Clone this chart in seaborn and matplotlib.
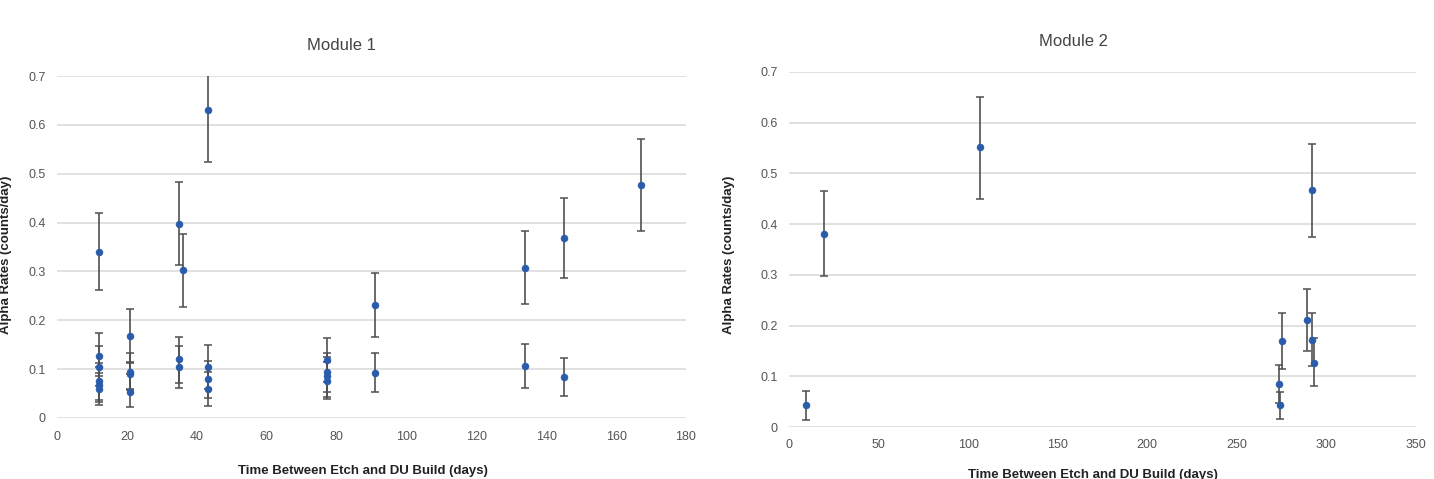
import matplotlib
matplotlib.use("Agg")
import matplotlib.pyplot as plt
import seaborn as sns
import pandas as pd
import numpy as np

# ---------------- data ----------------
# Module 1
m1_days = [12, 12, 12, 12, 12, 12,
           21, 21, 21, 21,
           35, 35, 35, 36.2,
           43.3, 43.3, 43.3, 43.3,
           77.2, 77.2, 77.2, 77.2,
           91, 91,
           134, 134,
           145, 145,
           167]
m1_rate = [0.340, 0.126, 0.105, 0.075, 0.068, 0.060,
           0.168, 0.094, 0.091, 0.054,
           0.398, 0.120, 0.105, 0.302,
           0.630, 0.105, 0.080, 0.059,
           0.118, 0.095, 0.085, 0.076,
           0.231, 0.093,
           0.308, 0.106,
           0.368, 0.084,
           0.477]
m1_low = [0.262, 0.085, 0.065, 0.037, 0.032, 0.027,
          0.115, 0.058, 0.060, 0.023,
          0.313, 0.072, 0.061, 0.228,
          0.524, 0.060, 0.040, 0.025,
          0.073, 0.054, 0.042, 0.039,
          0.166, 0.053,
          0.233, 0.062,
          0.287, 0.045,
          0.383]
m1_high = [0.419, 0.173, 0.147, 0.113, 0.105, 0.092,
           0.224, 0.134, 0.113, 0.090,
           0.483, 0.166, 0.147, 0.376,
           0.740, 0.149, 0.117, 0.095,
           0.163, 0.134, 0.125, 0.115,
           0.297, 0.134,
           0.383, 0.151,
           0.451, 0.123,
           0.571]

# Module 2
m2_days = [9.5, 19.5, 106.6, 273.5, 274, 275, 289.3, 291.8, 292, 293]
m2_rate = [0.043, 0.381, 0.552, 0.084, 0.043, 0.170, 0.211, 0.172, 0.467, 0.127]
m2_low = [0.014, 0.298, 0.450, 0.047, 0.015, 0.114, 0.150, 0.120, 0.375, 0.080]
m2_high = [0.071, 0.465, 0.651, 0.122, 0.070, 0.224, 0.273, 0.224, 0.558, 0.175]

titles = ["Module 1", "Module 2"]
xlabel = "Time Between Etch and DU Build (days)"
ylabel = "Alpha Rates (counts/day)"
yticks = [0, 0.1, 0.2, 0.3, 0.4, 0.5, 0.6, 0.7]
xticks1 = [0, 20, 40, 60, 80, 100, 120, 140, 160, 180]
xticks2 = [0, 50, 100, 150, 200, 250, 300, 350]

# ---------------- style ----------------
sns.set_theme(style="white")
plt.rcParams['font.family'] = ['Liberation Sans', 'DejaVu Sans']

fig = plt.figure(figsize=(14.34, 4.79), dpi=100)
ax1 = fig.add_axes([57/1434, 1-418/479, (686-57)/1434, (418-76)/479])
ax2 = fig.add_axes([789/1434, 1-427/479, (1416-789)/1434, (427-72)/479])

point_color = "#2a5cab"
err_color = "#505050"
grid_color = "#d9d9d9"

panels = [
    (ax1, m1_days, m1_rate, m1_low, m1_high, xticks1, (0, 180), titles[0],
     (-0.072, 0.477), (0.486, -0.137)),
    (ax2, m2_days, m2_rate, m2_low, m2_high, xticks2, (0, 350), titles[1],
     (-0.0861, 0.485), (0.485, -0.118)),
]

for ax, xd, yd, lo, hi, xt, xl, title, ylc, xlc in panels:
    df = pd.DataFrame({"days": xd, "rate": yd, "low": lo, "high": hi})
    yerr = np.vstack([df["rate"] - df["low"], df["high"] - df["rate"]])
    ax.errorbar(df["days"], df["rate"], yerr=yerr, fmt="none",
                ecolor=err_color, elinewidth=1.2, capsize=2.8, capthick=1.1,
                zorder=2, clip_on=True)
    sns.scatterplot(data=df, x="days", y="rate", ax=ax, color=point_color,
                    s=26, edgecolor=point_color, linewidth=0.3, zorder=3,
                    legend=False)
    ax.set_xlim(*xl)
    ax.set_ylim(0, 0.7)
    ax.set_xticks(xt)
    ax.set_xticklabels([str(t) for t in xt])
    ax.set_yticks(yticks)
    ax.set_yticklabels(["0" if t == 0 else f"{t:.1f}" for t in yticks])
    for s in ax.spines.values():
        s.set_visible(False)
    ax.grid(axis="y", color=grid_color, linewidth=1.1)
    ax.grid(axis="x", visible=False)
    ax.set_axisbelow(True)
    ax.tick_params(axis="both", length=0, labelsize=9, labelcolor="#555555")
    ax.tick_params(axis="x", pad=9)
    ax.tick_params(axis="y", pad=8)
    ax.set_title(title, fontsize=12, color="#444444", pad=19, x=0.453)
    ax.set_xlabel(xlabel, fontsize=9.5, fontweight="bold", color="#222222")
    ax.set_ylabel(ylabel, fontsize=9.5, fontweight="bold", color="#222222")
    ax.yaxis.set_label_coords(*ylc)
    ax.xaxis.set_label_coords(*xlc)

fig.savefig("out.png", dpi=100)
